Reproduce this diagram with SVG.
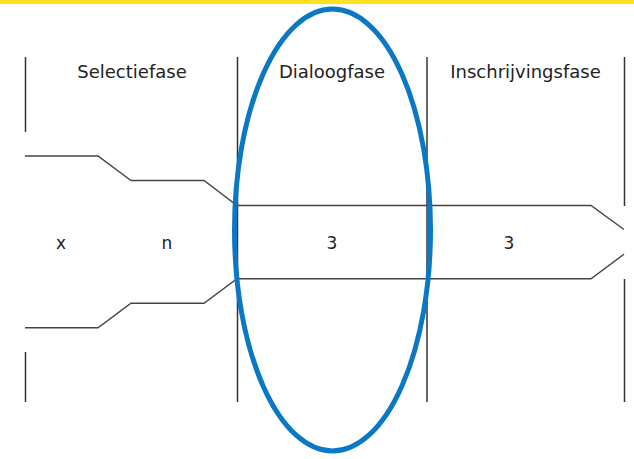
<svg xmlns="http://www.w3.org/2000/svg" width="634" height="459" viewBox="0 0 634 459">
  <style>
    .sep { stroke: #333; stroke-width: 1.5; fill: none; }
    .flow { stroke: #444; stroke-width: 1.4; fill: none; stroke-linejoin: miter; }
    .lbl { font-family: "DejaVu Sans", Verdana, sans-serif; font-size: 18px; fill: #222; text-anchor: middle; }
    .val { font-family: "DejaVu Sans", Verdana, sans-serif; font-size: 17px; fill: #222; text-anchor: middle; }
  </style>
  <rect x="0" y="0" width="634" height="459" fill="#ffffff"/>
  <rect id="topbar" x="0" y="0" width="634" height="4" fill="#FFE21F"/>
  <g id="separators">
    <line class="sep" x1="25.5" y1="57" x2="25.5" y2="132"/>
    <line class="sep" x1="25.5" y1="352" x2="25.5" y2="402"/>
    <line class="sep" x1="237.5" y1="57" x2="237.5" y2="402"/>
    <line class="sep" x1="427" y1="57" x2="427" y2="402"/>
    <line class="sep" x1="624.5" y1="57" x2="624.5" y2="206"/>
    <line class="sep" x1="624.5" y1="279" x2="624.5" y2="402"/>
  </g>
  <g id="phase-selectie">
    <text class="lbl" x="132" y="78">Selectiefase</text>
  </g>
  <g id="phase-dialoog">
    <text class="lbl" x="332" y="78">Dialoogfase</text>
  </g>
  <g id="phase-inschrijving">
    <text class="lbl" x="525.5" y="78">Inschrijvingsfase</text>
  </g>
  <g id="connectors">
    <path class="flow" d="M25,156 H98 L131,180.5 H204 L237,205.5 H591 L624,229.5"/>
    <path class="flow" d="M25,327.7 H98 L131,303.2 H204 L237,278.7 H591 L624,254.2"/>
  </g>
  <g id="values">
    <text class="val" x="61" y="249">x</text>
    <text class="val" x="167" y="249">n</text>
    <text class="val" x="332" y="249">3</text>
    <text class="val" x="509" y="249">3</text>
  </g>
  <g id="highlight">
    <ellipse cx="332.5" cy="230" rx="98" ry="221" fill="none" stroke="#0B78C6" stroke-width="5"/>
  </g>
</svg>
